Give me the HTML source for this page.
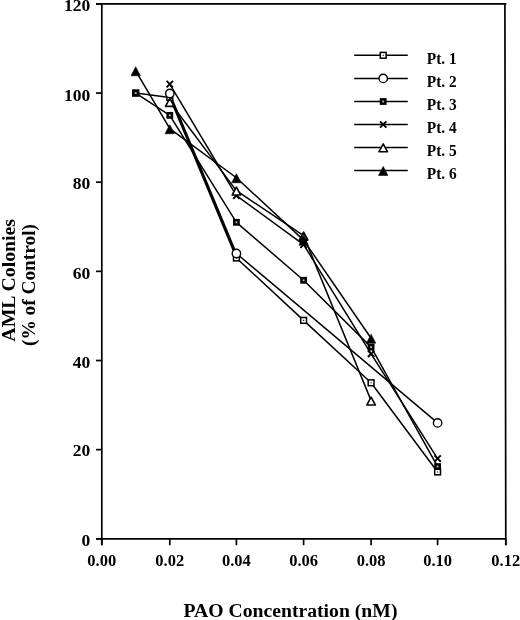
<!DOCTYPE html>
<html><head><meta charset="utf-8"><style>
html,body{margin:0;padding:0;background:#fff;}
body{width:520px;height:620px;overflow:hidden;font-family:"Liberation Serif",serif;}
svg{display:block;filter:grayscale(1);}
</style></head><body>
<svg width="520" height="620" viewBox="0 0 520 620">
<g stroke="#000" stroke-width="1.7" fill="none" stroke-linecap="butt">
<path d="M96 3.9H506.3M101.8 3V545.2M504.9 3L505.8 545.2M96 538.8H506.5"/>
<path d="M96 538.8H101.8"/>
<path d="M96 449.65H101.8"/>
<path d="M96 360.5H101.8"/>
<path d="M96 271.35H101.8"/>
<path d="M96 182.2H101.8"/>
<path d="M96 93.05H101.8"/>
<path d="M96 3.9H101.8"/>
<path d="M101.8 538.8V545.2"/>
<path d="M169.8 538.8V545.2"/>
<path d="M236.4 538.8V545.2"/>
<path d="M303.6 538.8V545.2"/>
<path d="M371.1 538.8V545.2"/>
<path d="M437.6 538.8V545.2"/>
<path d="M505.8 538.8V545.2"/>
</g>
<g font-family="Liberation Serif" font-weight="bold" fill="#000">
<text transform="translate(90.3 546.2) scale(1.02 1)" font-size="17.2" text-anchor="end">0</text>
<text transform="translate(90.3 456.2) scale(1.02 1)" font-size="17.2" text-anchor="end">20</text>
<text transform="translate(90.3 368.3) scale(1.02 1)" font-size="17.2" text-anchor="end">40</text>
<text transform="translate(90.3 278.5) scale(1.02 1)" font-size="17.2" text-anchor="end">60</text>
<text transform="translate(90.3 188.7) scale(1.02 1)" font-size="17.2" text-anchor="end">80</text>
<text transform="translate(90.3 100.7) scale(1.02 1)" font-size="17.2" text-anchor="end">100</text>
<text transform="translate(90.3 11.2) scale(1.02 1)" font-size="17.2" text-anchor="end">120</text>
<text transform="translate(101.8 565.8)" font-size="16.5" text-anchor="middle">0.00</text>
<text transform="translate(169.8 565.8)" font-size="16.5" text-anchor="middle">0.02</text>
<text transform="translate(236.4 565.8)" font-size="16.5" text-anchor="middle">0.04</text>
<text transform="translate(303.6 565.8)" font-size="16.5" text-anchor="middle">0.06</text>
<text transform="translate(371.1 565.8)" font-size="16.5" text-anchor="middle">0.08</text>
<text transform="translate(437.6 565.8)" font-size="16.5" text-anchor="middle">0.10</text>
<text transform="translate(505.8 565.8)" font-size="16.5" text-anchor="middle">0.12</text>
<text transform="translate(290.45 617.2) scale(1.037 1)" font-size="19" text-anchor="middle">PAO Concentration (nM)</text>
<text transform="translate(14.5 280.3) rotate(-90) scale(1.043 1)" font-size="19" text-anchor="middle">AML Colonies</text>
<text transform="translate(35.2 285.05) rotate(-90) scale(1.018 1)" font-size="19" text-anchor="middle">(% of Control)</text>
</g>
<path d="M169.8 95.5L236.4 255.75" stroke="#000" stroke-width="1.5"/>
<path d="M135.7 93.05L169.8 97.51L236.4 257.98L303.6 320.38L371.1 382.79L437.6 471.94" stroke="#000" stroke-width="1.5" fill="none" stroke-linejoin="round"/>
<rect x="132.8" y="90.15" width="5.8" height="5.8" fill="#fff" stroke="#000" stroke-width="1.5"/><rect x="135.1" y="92.45" width="1.2" height="1.2" fill="#222"/>
<rect x="166.9" y="94.61" width="5.8" height="5.8" fill="#fff" stroke="#000" stroke-width="1.5"/><rect x="169.2" y="96.91" width="1.2" height="1.2" fill="#222"/>
<rect x="233.5" y="255.08" width="5.8" height="5.8" fill="#fff" stroke="#000" stroke-width="1.5"/><rect x="235.8" y="257.38" width="1.2" height="1.2" fill="#222"/>
<rect x="300.7" y="317.48" width="5.8" height="5.8" fill="#fff" stroke="#000" stroke-width="1.5"/><rect x="303" y="319.78" width="1.2" height="1.2" fill="#222"/>
<rect x="368.2" y="379.89" width="5.8" height="5.8" fill="#fff" stroke="#000" stroke-width="1.5"/><rect x="370.5" y="382.19" width="1.2" height="1.2" fill="#222"/>
<rect x="434.7" y="469.04" width="5.8" height="5.8" fill="#fff" stroke="#000" stroke-width="1.5"/><rect x="437" y="471.34" width="1.2" height="1.2" fill="#222"/>
<path d="M169.8 93.5L236.4 253.52L437.6 422.9" stroke="#000" stroke-width="1.5" fill="none" stroke-linejoin="round"/>
<circle cx="169.8" cy="93.5" r="4.2" fill="#fff" stroke="#000" stroke-width="1.4"/>
<circle cx="236.4" cy="253.52" r="4.2" fill="#fff" stroke="#000" stroke-width="1.4"/>
<circle cx="437.6" cy="422.9" r="4.2" fill="#fff" stroke="#000" stroke-width="1.4"/>
<path d="M135.7 93.05L169.8 115.34L236.4 222.32L303.6 280.26L371.1 347.13L437.6 466.59" stroke="#000" stroke-width="1.5" fill="none" stroke-linejoin="round"/>
<rect x="133.55" y="90.9" width="4.3" height="4.3" fill="#bbb" stroke="#000" stroke-width="2.5"/>
<rect x="167.65" y="113.19" width="4.3" height="4.3" fill="#bbb" stroke="#000" stroke-width="2.5"/>
<rect x="234.25" y="220.17" width="4.3" height="4.3" fill="#bbb" stroke="#000" stroke-width="2.5"/>
<rect x="301.45" y="278.12" width="4.3" height="4.3" fill="#bbb" stroke="#000" stroke-width="2.5"/>
<rect x="368.95" y="344.98" width="4.3" height="4.3" fill="#bbb" stroke="#000" stroke-width="2.5"/>
<rect x="435.45" y="464.44" width="4.3" height="4.3" fill="#bbb" stroke="#000" stroke-width="2.5"/>
<path d="M169.8 84.13L236.4 195.57L303.6 244.6L371.1 353.81L437.6 458.56" stroke="#000" stroke-width="1.5" fill="none" stroke-linejoin="round"/>
<path d="M166.6 80.93L173 87.33M173 80.93L166.6 87.33" stroke="#000" stroke-width="1.9" fill="none"/>
<path d="M233.2 192.37L239.6 198.77M239.6 192.37L233.2 198.77" stroke="#000" stroke-width="1.9" fill="none"/>
<path d="M300.4 241.4L306.8 247.8M306.8 241.4L300.4 247.8" stroke="#000" stroke-width="1.9" fill="none"/>
<path d="M367.9 350.61L374.3 357.01M374.3 350.61L367.9 357.01" stroke="#000" stroke-width="1.9" fill="none"/>
<path d="M434.4 455.36L440.8 461.76M440.8 455.36L434.4 461.76" stroke="#000" stroke-width="1.9" fill="none"/>
<path d="M169.8 101.96L236.4 190.67L303.6 235.69L371.1 400.62" stroke="#000" stroke-width="1.5" fill="none" stroke-linejoin="round"/>
<path d="M169.8 98.46L174.1 106.36L165.5 106.36Z" fill="#fff" stroke="#000" stroke-width="1.6" stroke-linejoin="round"/>
<path d="M236.4 187.17L240.7 195.07L232.1 195.07Z" fill="#fff" stroke="#000" stroke-width="1.6" stroke-linejoin="round"/>
<path d="M303.6 232.19L307.9 240.09L299.3 240.09Z" fill="#444" stroke="#000" stroke-width="1.6" stroke-linejoin="round"/>
<path d="M371.1 397.12L375.4 405.02L366.8 405.02Z" fill="#fff" stroke="#000" stroke-width="1.6" stroke-linejoin="round"/>
<path d="M135.7 70.76L169.8 128.71L236.4 177.74L303.6 240.15L371.1 338.21" stroke="#000" stroke-width="1.5" fill="none" stroke-linejoin="round"/>
<path d="M135.7 66.76L140.4 75.76L131 75.76Z" fill="#000" stroke="#000" stroke-width="0.6" stroke-linejoin="round"/>
<path d="M169.8 124.71L174.5 133.71L165.1 133.71Z" fill="#000" stroke="#000" stroke-width="0.6" stroke-linejoin="round"/>
<path d="M236.4 173.74L241.1 182.74L231.7 182.74Z" fill="#000" stroke="#000" stroke-width="0.6" stroke-linejoin="round"/>
<path d="M303.6 236.15L308.3 245.15L298.9 245.15Z" fill="#000" stroke="#000" stroke-width="0.6" stroke-linejoin="round"/>
<path d="M371.1 334.21L375.8 343.21L366.4 343.21Z" fill="#000" stroke="#000" stroke-width="0.6" stroke-linejoin="round"/>
<g stroke="#000" stroke-width="1.5">
<path d="M354.2 55.3H407.8"/>
<path d="M354.2 78.4H407.8"/>
<path d="M354.2 101.5H407.8"/>
<path d="M354.2 124.5H407.8"/>
<path d="M354.2 147.4H407.8"/>
<path d="M354.2 170.4H407.8"/>
</g>
<rect x="380.3" y="52.4" width="5.8" height="5.8" fill="#fff" stroke="#000" stroke-width="1.5"/><rect x="382.6" y="54.7" width="1.2" height="1.2" fill="#222"/>
<circle cx="383.2" cy="78.4" r="4.2" fill="#fff" stroke="#000" stroke-width="1.4"/>
<rect x="381.05" y="99.35" width="4.3" height="4.3" fill="#bbb" stroke="#000" stroke-width="2.5"/>
<path d="M380 121.3L386.4 127.7M386.4 121.3L380 127.7" stroke="#000" stroke-width="1.9" fill="none"/>
<path d="M383.2 143.9L387.5 151.8L378.9 151.8Z" fill="#fff" stroke="#000" stroke-width="1.6" stroke-linejoin="round"/>
<path d="M383.2 166.4L387.9 175.4L378.5 175.4Z" fill="#000" stroke="#000" stroke-width="0.6" stroke-linejoin="round"/>
<g font-family="Liberation Serif" font-weight="bold">
<text transform="translate(426.8 63.5) scale(0.905 1)" font-size="17.0">Pt. 1</text>
<text transform="translate(426.8 86.6) scale(0.905 1)" font-size="17.0">Pt. 2</text>
<text transform="translate(426.8 109.7) scale(0.905 1)" font-size="17.0">Pt. 3</text>
<text transform="translate(426.8 132.7) scale(0.905 1)" font-size="17.0">Pt. 4</text>
<text transform="translate(426.8 155.6) scale(0.905 1)" font-size="17.0">Pt. 5</text>
<text transform="translate(426.8 178.6) scale(0.905 1)" font-size="17.0">Pt. 6</text>
</g>
</svg>
</body></html>
